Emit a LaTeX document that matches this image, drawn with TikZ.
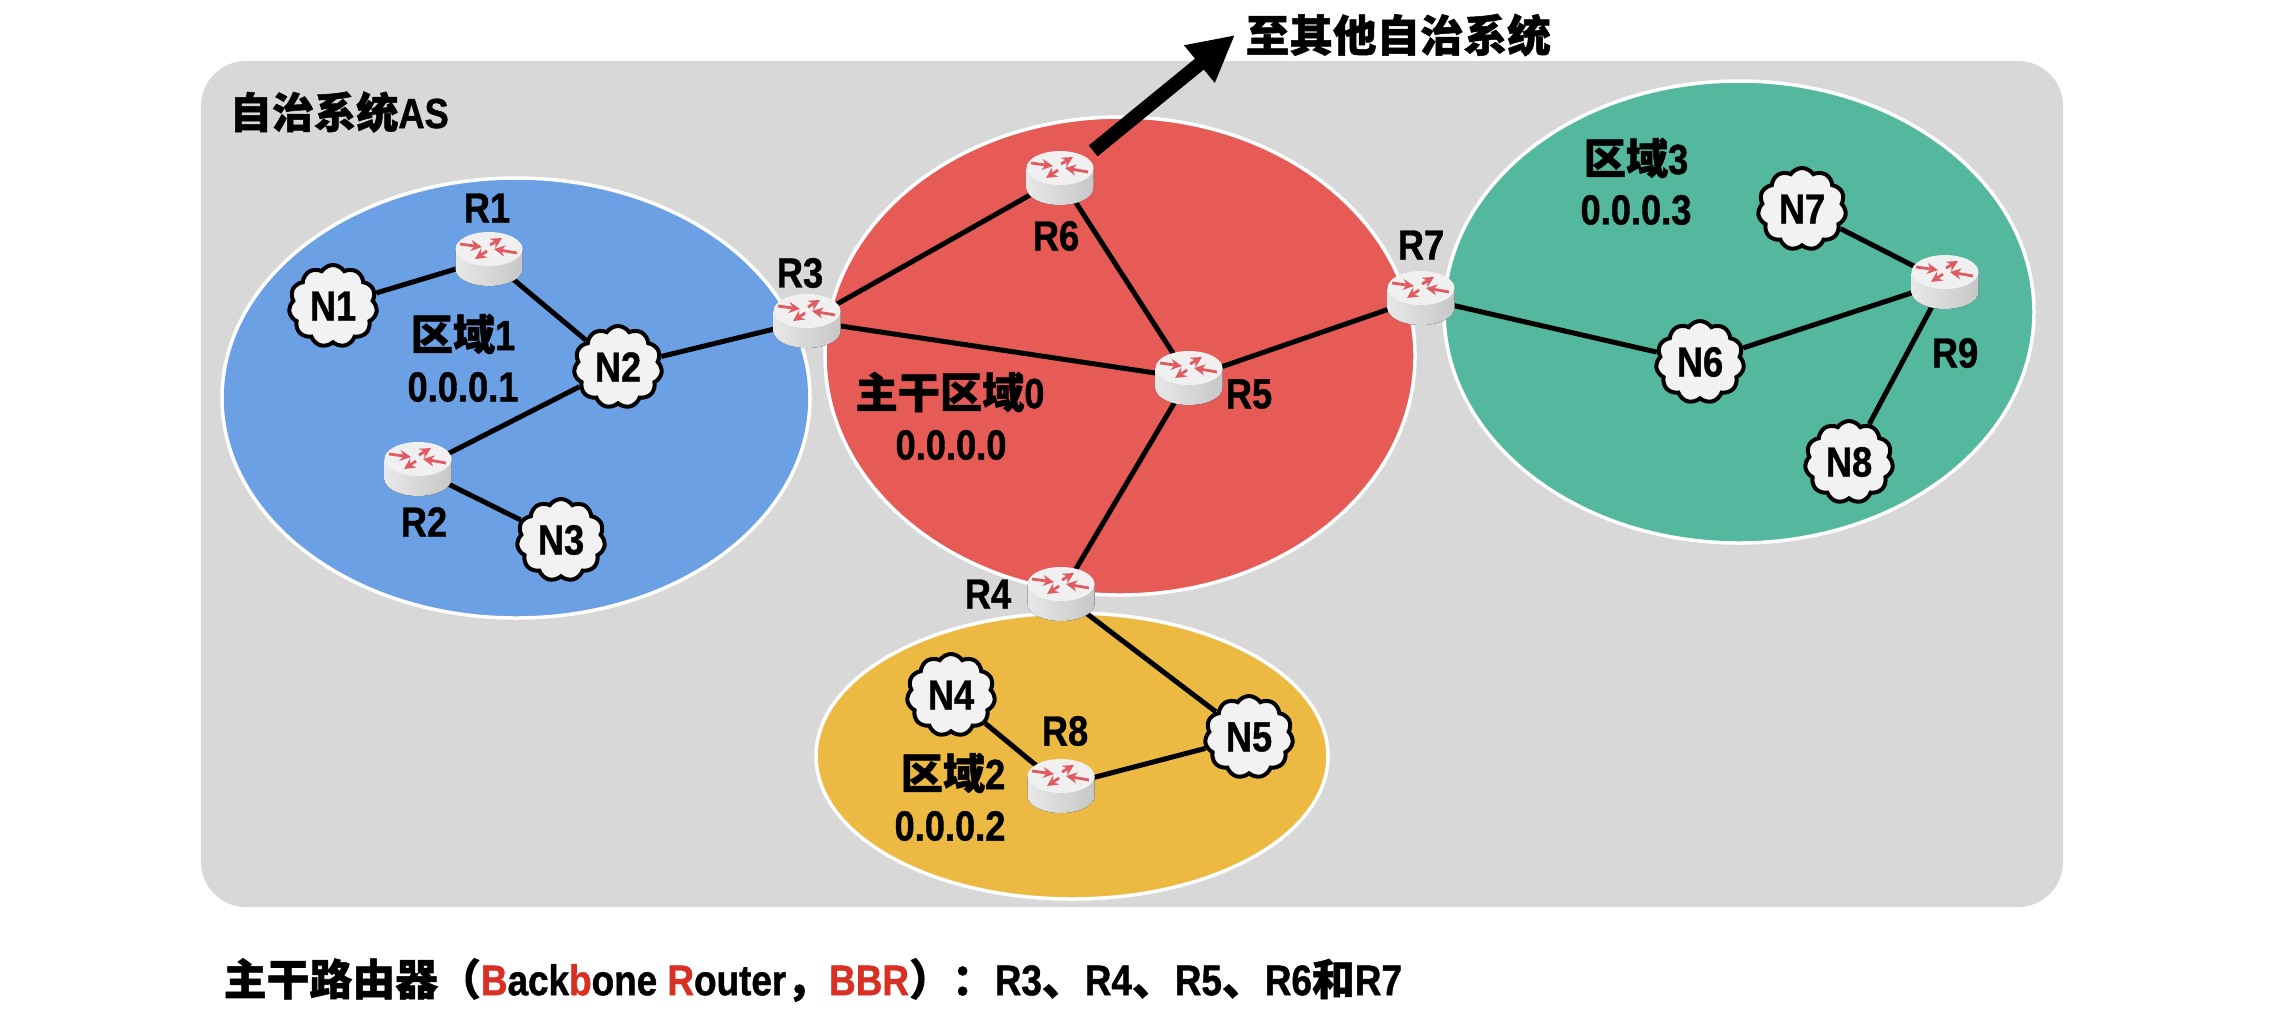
\documentclass[tikz,border=0pt]{standalone}
\usepackage{fontspec}
\usetikzlibrary{arrows.meta, backgrounds, shapes.geometric, shapes.symbols}
\setmainfont{Liberation Sans}[FakeStretch=0.86, BoldFeatures={FakeBold=1}]
\newfontfamily\cjk{Noto Sans CJK SC}[FakeBold=1.2]
\definecolor{PanelGrey}{HTML}{D8D8D8}
\definecolor{AreaBlue}{HTML}{6CA0E4}
\definecolor{AreaRed}{HTML}{E75B57}
\definecolor{AreaGreen}{HTML}{54B89E}
\definecolor{AreaYellow}{HTML}{ECBA42}
\definecolor{CloudGrey}{HTML}{F2F2F2}
\definecolor{TipRed}{HTML}{E05A62}
\definecolor{NoteRed}{HTML}{D93025}

\begin{document}
\begin{tikzpicture}[
    x=0.1mm, y=-0.1mm,
    every node/.style={font=\fontsize{12}{14}\selectfont\bfseries, inner sep=0pt},
    router/.style={ellipse, minimum width=6.7mm, minimum height=5.3mm},
    cloudnet/.style={cloud, cloud puffs=11, cloud puff arc=115, aspect=1, draw=black,
        line width=0.4mm, fill=CloudGrey, minimum width=8.8mm, minimum height=8.2mm},
    area/.style={ellipse, draw=white, line width=0.35mm},
    link/.style={line width=0.5mm, black},
    uplink/.style={-{Triangle[length=4.6mm, width=4.5mm]}, line width=1.4mm, black, shorten <=1.2mm},
    flow/.style={-{Stealth[length=1.1mm, width=1.1mm]}, line width=0.28mm, TipRed},
    router icon/.pic={
        \fill[left color=black!9, right color=black!22]
            (-33.5, -10) -- (-33.5, 10) arc[start angle=180, end angle=0, x radius=33.5, y radius=17]
            -- (33.5, -10) -- cycle;
        \fill[black!6] (0, -10) ellipse[x radius=33.5, y radius=17];
        \draw[flow] (-29, -15) -- (-7, -12);
        \draw[flow] (28, -6) -- (5, -10);
        \draw[flow] (1, -14) -- (13, -21);
        \draw[flow] (-2, -8) -- (-14, 0);
    },
]
\useasboundingbox (0, 0) rectangle (2288, 1026);

% === Routers ===
\node[router] (R1) at (489, 259) {}; \pic at (R1) {router icon};
\node[router] (R2) at (418, 469) {}; \pic at (R2) {router icon};
\node[router] (R3) at (807, 321) {}; \pic at (R3) {router icon};
\node[router] (R4) at (1061, 594) {}; \pic at (R4) {router icon};
\node[router] (R5) at (1189, 378) {}; \pic at (R5) {router icon};
\node[router] (R6) at (1060, 178) {}; \pic at (R6) {router icon};
\node[router] (R7) at (1421, 298) {}; \pic at (R7) {router icon};
\node[router] (R8) at (1061, 786) {}; \pic at (R8) {router icon};
\node[router] (R9) at (1945, 282) {}; \pic at (R9) {router icon};

% === Networks ===
\node[cloudnet] (N1) at (333, 306) {N1};
\node[cloudnet] (N2) at (618, 367) {N2};
\node[cloudnet] (N3) at (561, 540) {N3};
\node[cloudnet] (N4) at (951, 695) {N4};
\node[cloudnet] (N5) at (1249, 737) {N5};
\node[cloudnet] (N6) at (1700, 362) {N6};
\node[cloudnet] (N7) at (1802, 209) {N7};
\node[cloudnet] (N8) at (1849, 462) {N8};

% === Router labels ===
\node (lR1) at (487, 208) {R1};
\node (lR2) at (424, 522) {R2};
\node (lR3) at (800, 273) {R3};
\node (lR4) at (988, 594) {R4};
\node (lR5) at (1249, 394) {R5};
\node (lR6) at (1056, 236) {R6};
\node (lR7) at (1421, 245) {R7};
\node (lR8) at (1065, 731) {R8};
\node (lR9) at (1955, 353) {R9};

% === Area labels ===
\node (a1name) at (463, 334) {{\cjk 区域}1};
\node (a1id) at (463, 387) {0.0.0.1};
\node (a0name) at (950, 392) {{\cjk 主干区域}0};
\node (a0id) at (951, 445) {0.0.0.0};
\node (a2name) at (953, 773) {{\cjk 区域}2};
\node (a2id) at (950, 826) {0.0.0.2};
\node (a3name) at (1636, 158) {{\cjk 区域}3};
\node (a3id) at (1636, 210) {0.0.0.3};

% === Titles ===
\node[anchor=west] (astitle) at (229, 112) {{\cjk 自治系统}AS};
\node[anchor=west, font=\fontsize{12.4}{14}\selectfont\bfseries] (exit) at (1245, 35) {\cjk 至其他自治系统};
\coordinate (exittip) at (1235, 35);

% === Bottom note ===
\node[anchor=west, font=\fontsize{12.2}{14}\selectfont\bfseries] (note) at (223, 980)
    {{\cjk 主干路由器（}\textcolor{NoteRed}{B}ack\textcolor{NoteRed}{b}one \textcolor{NoteRed}{R}outer{\cjk ，}\textcolor{NoteRed}{BBR}{\cjk ）：}R3{\cjk 、}R4{\cjk 、}R5{\cjk 、}R6{\cjk 和}R7};

% === Panel, areas and links go underneath ===
\begin{scope}[on background layer]
\fill[PanelGrey, rounded corners=4.5mm] (201, 61) rectangle (2063, 907);

\node[area, fill=AreaBlue, minimum width=58.8mm, minimum height=44mm] (area1) at (516, 398) {};
\node[area, fill=AreaRed, minimum width=59mm, minimum height=47.8mm] (area0) at (1120, 356) {};
\node[area, fill=AreaGreen, minimum width=59mm, minimum height=46.2mm] (area3) at (1739, 312) {};
\node[area, fill=AreaYellow, minimum width=51.2mm, minimum height=28.6mm] (area2) at (1072, 756) {};

\draw[link] (N1) -- (R1);
\draw[link] (R1) -- (N2);
\draw[link] (N2) -- (R3);
\draw[link] (N2) -- (R2);
\draw[link] (R2) -- (N3);
\draw[link] (R3) -- (R6);
\draw[link] (R3) -- (R5);
\draw[link] (R6) -- (R5);
\draw[link] (R5) -- (R7);
\draw[link] (R5) -- (R4);
\draw[link] (R4) -- (N5);
\draw[link] (N4) -- (R8);
\draw[link] (R8) -- (N5);
\draw[link] (R7) -- (N6);
\draw[link] (N6) -- (R9);
\draw[link] (N7) -- (R9);
\draw[link] (N8) -- (R9);
\end{scope}

\draw[uplink] (R6) -- (exittip);

\end{tikzpicture}
\end{document}
